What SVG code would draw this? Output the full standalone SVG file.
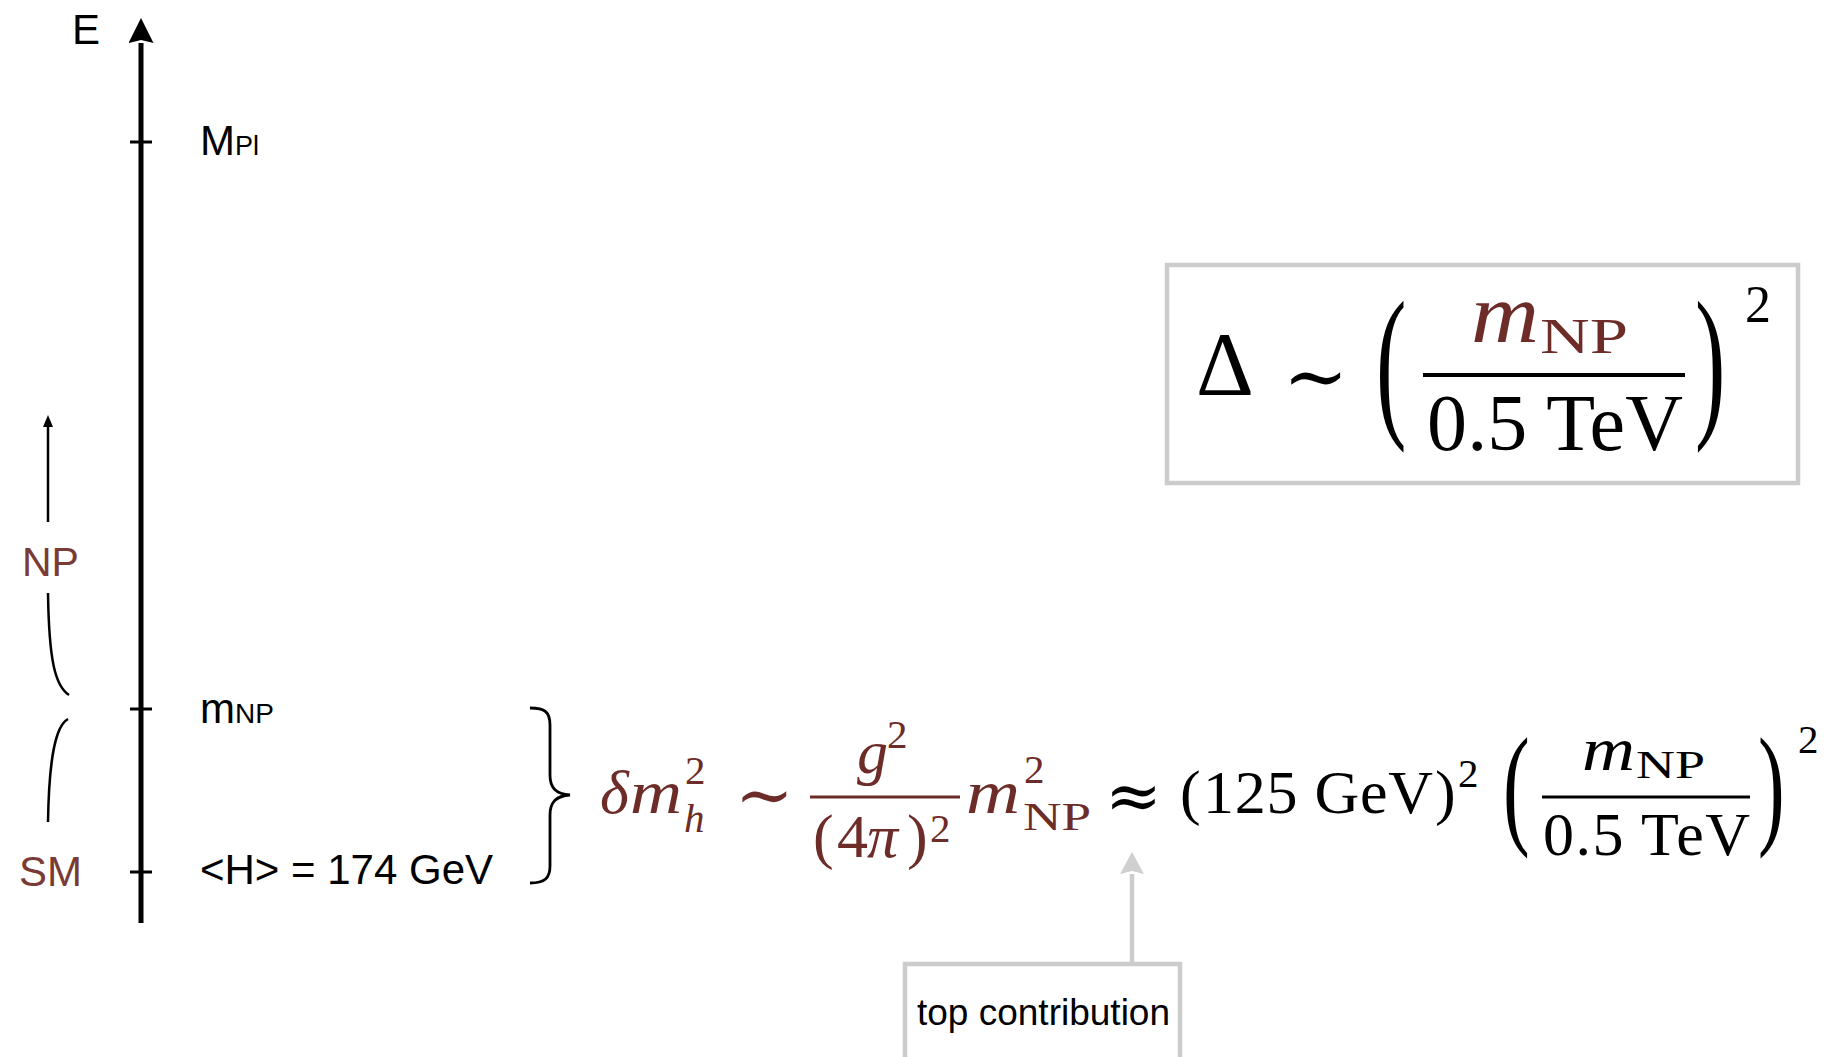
<svg xmlns="http://www.w3.org/2000/svg" width="1837" height="1057" viewBox="0 0 1837 1057">
<style>
.sans{font-family:"Liberation Sans",Arial,sans-serif;fill:#000}
.serif{font-family:"Liberation Serif","Times New Roman",serif;fill:#000}
.it{font-style:italic}
.sym{font-family:"DejaVu Serif","Liberation Serif",serif}
.brown{fill:#6d2c27}
.lab{fill:#7b3b35}
.scr{font-size:41px}
.m62{font-size:62px}
.ax{stroke:#000;fill:none}
.gray{stroke:#cccccc;fill:none}
</style>
<defs>
<marker id="ahAxis" viewBox="0 0 25 25" markerWidth="25" markerHeight="25" refX="0" refY="12.5" orient="auto" markerUnits="userSpaceOnUse"><path d="M0,0 L25,12.5 L0,25 L3,12.5 z" fill="#000"/></marker>
<marker id="ahSmall" viewBox="0 0 12 10" markerWidth="12" markerHeight="10" refX="0" refY="5" orient="auto" markerUnits="userSpaceOnUse"><path d="M0,0 L12,5 L0,10 z" fill="#000"/></marker>
<marker id="ahGray" viewBox="0 0 22 24" markerWidth="22" markerHeight="24" refX="0" refY="12" orient="auto" markerUnits="userSpaceOnUse"><path d="M0,0 L22,12 L0,24 L3,12 z" fill="#cfcfcf"/></marker>
</defs>
<rect width="1837" height="1057" fill="#fff"/>

<g id="connectors">
<line id="energy-axis" class="ax" x1="141" y1="923" x2="141" y2="43" stroke-width="5" marker-end="url(#ahAxis)"/>
<line id="np-arrow" class="ax" x1="48" y1="522" x2="48" y2="427" stroke-width="2.5" marker-end="url(#ahSmall)"/>
<path id="np-curve" class="ax" d="M48,593 C49,660 55,686 69,695" stroke-width="2.5"/>
<path id="sm-curve" class="ax" d="M68,719 C55,726 49,760 48,822" stroke-width="2.5"/>
<path id="brace" class="ax" d="M530,708 C545,708 550,712 550,725 L550,775 C550,788 556,794 570,795 C556,796 550,802 550,815 L550,866 C550,878 545,883 530,883" stroke-width="2.8"/>
<line id="top-arrow" class="gray" x1="1132" y1="962" x2="1132" y2="874" stroke="#cfcfcf" stroke-width="4.5" marker-end="url(#ahGray)"/>
</g>

<g id="axis-labels">
<text class="sans" x="72" y="44" font-size="42">E</text>
<g id="tick-mpl"><line class="ax" x1="130" y1="142" x2="152" y2="142" stroke-width="3"/>
<text class="sans" x="200" y="155" font-size="42">M<tspan font-size="27">Pl</tspan></text></g>
<g id="tick-mnp"><line class="ax" x1="130" y1="709" x2="152" y2="709" stroke-width="3"/>
<text class="sans" x="200" y="723" font-size="42">m<tspan font-size="28">NP</tspan></text></g>
<g id="tick-h"><line class="ax" x1="130" y1="872" x2="152" y2="872" stroke-width="3"/>
<text class="sans" x="200" y="884" font-size="42">&lt;H&gt; = 174 GeV</text></g>
<text id="np-label" class="sans lab" x="22" y="576" font-size="41">NP</text>
<text id="sm-label" class="sans lab" x="19" y="886" font-size="42">SM</text>
</g>

<g id="delta-formula" class="serif">
<g class="brown">
<text class="serif brown it m62" x="600" y="813">δ</text>
<text class="serif brown it" x="630" y="813" font-size="62" textLength="52" lengthAdjust="spacingAndGlyphs">m</text>
<text class="serif brown scr" x="685" y="784">2</text>
<text class="serif brown it scr" x="684" y="832">h</text>
<text class="sym brown" x="735" y="819" font-size="70">∼</text>
<text class="serif brown it m62" x="857" y="773">g</text>
<text class="serif brown scr" x="887" y="748">2</text>
<line x1="810" y1="797" x2="960" y2="797" stroke="#6d2c27" stroke-width="3"/>
<text class="serif brown m62" x="813" y="857">(</text>
<text class="serif brown m62" x="837" y="857">4</text>
<text class="serif brown it m62" x="867" y="857">π</text>
<text class="serif brown m62" x="907" y="857">)</text>
<text class="serif brown scr" x="930" y="842">2</text>
<text class="serif brown it" x="966" y="813" font-size="62" textLength="54" lengthAdjust="spacingAndGlyphs">m</text>
<text class="serif brown scr" x="1024" y="783">2</text>
<text class="serif brown scr" x="1023" y="830" textLength="68" lengthAdjust="spacingAndGlyphs">NP</text>
</g>
<text class="sym" x="1105" y="819" font-size="68">≈</text>
<text class="serif m62" x="1180" y="813">(</text>
<text class="serif m62" x="1203" y="813" textLength="230" lengthAdjust="spacing">125 GeV</text>
<text class="serif m62" x="1435" y="813">)</text>
<text class="serif scr" x="1458" y="787">2</text>
<text class="serif" font-size="64" transform="translate(1503,830) scale(1.25,2.07)">(</text>
<text class="serif it" x="1582" y="770" font-size="62" textLength="53" lengthAdjust="spacingAndGlyphs">m</text>
<text class="serif scr" x="1636" y="778" textLength="69" lengthAdjust="spacingAndGlyphs">NP</text>
<line x1="1542" y1="797" x2="1750" y2="797" stroke="#000" stroke-width="3"/>
<text class="serif m62" x="1543" y="855" textLength="207" lengthAdjust="spacing">0.5 TeV</text>
<text class="serif" font-size="64" transform="translate(1758,830) scale(1.25,2.07)">)</text>
<text class="serif scr" x="1798" y="753">2</text>
</g>

<g id="naturalness-box">
<rect class="gray" x="1167" y="265" width="631" height="218" stroke-width="4.5"/>
<text class="serif" x="1196" y="395" font-size="90">Δ</text>
<text class="sym" x="1283" y="403" font-size="78">∼</text>
<text class="serif" font-size="83" transform="translate(1376,417) scale(1.1,2.03)">(</text>
<text class="serif brown it" x="1471" y="342" font-size="84" textLength="68" lengthAdjust="spacingAndGlyphs">m</text>
<text class="serif brown" x="1540" y="353" font-size="50" textLength="88" lengthAdjust="spacingAndGlyphs">NP</text>
<line x1="1423" y1="375" x2="1685" y2="375" stroke="#000" stroke-width="4"/>
<text class="serif" x="1427" y="450" font-size="80" textLength="256" lengthAdjust="spacing">0.5 TeV</text>
<text class="serif" font-size="83" transform="translate(1695,417) scale(1.1,2.03)">)</text>
<text class="serif" x="1745" y="322" font-size="52">2</text>
</g>

<g id="top-contribution">
<rect class="gray" x="905" y="964" width="275" height="130" stroke-width="4.5"/>
<text class="sans" x="917" y="1025" font-size="37" fill="#222">top contribution</text>
</g>
</svg>
